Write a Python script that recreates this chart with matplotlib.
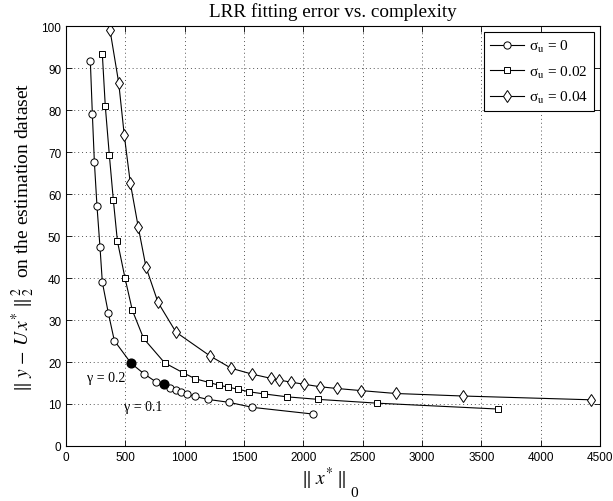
import matplotlib
matplotlib.use('Agg')
import matplotlib.pyplot as plt

# sigma_u = 0
x_s0 = [205, 222, 239, 261, 286, 306, 357, 407, 548, 657, 756, 828, 880, 925, 968,
        1017, 1087, 1194, 1373, 1570, 2083]
y_s0 = [91.6, 79.0, 67.6, 57.1, 47.5, 39.0, 31.6, 25.1, 19.7, 17.2, 15.3, 14.7, 13.9,
        13.4, 12.9, 12.4, 11.8, 11.1, 10.4, 9.2, 7.6]
# sigma_u = 0.02
x_s1 = [306, 331, 365, 399, 433, 497, 559, 654, 831, 989, 1090, 1209, 1285, 1368, 1452,
        1544, 1670, 1864, 2125, 2620, 3637]
y_s1 = [93.3, 80.9, 69.3, 58.5, 48.8, 40.0, 32.3, 25.6, 19.8, 17.4, 16.0, 15.1, 14.5,
        14.0, 13.5, 12.9, 12.4, 11.7, 11.1, 10.2, 8.8]
# sigma_u = 0.04
x_s2 = [371, 444, 491, 542, 609, 674, 775, 927, 1216, 1393, 1570, 1728, 1797, 1896, 2008,
        2142, 2280, 2483, 2780, 3346, 4423]
y_s2 = [99.0, 86.5, 74.0, 62.6, 52.1, 42.6, 34.2, 27.1, 21.4, 18.5, 17.1, 16.1, 15.7,
        15.2, 14.7, 14.1, 13.7, 13.2, 12.5, 11.9, 11.0]

# highlighted gamma points (on sigma_u = 0 curve)
gamma_x = [548, 828]
gamma_y = [19.7, 14.7]
gamma_txt = ['γ = 0.2', 'γ = 0.1']
gamma_pos = [(175, 16.2), (490, 9.5)]

plt.rcParams['mathtext.fontset'] = 'stix'
serif = ['Liberation Serif', 'DejaVu Serif']

fig = plt.figure(figsize=(6.13, 5.02), dpi=100)
ax = fig.add_axes([0.1077, 0.1096, 0.8711, 0.8364])

style = dict(color='black', linewidth=0.8, markerfacecolor='white',
             markeredgecolor='black', markeredgewidth=0.7)
ax.plot(x_s0, y_s0, marker='o', markersize=5.2, label='σ$_{\\rm u}$ = 0', **style)
ax.plot(x_s1, y_s1, marker='s', markersize=4.4, label='σ$_{\\rm u}$ = 0.02', **style)
ax.plot(x_s2, y_s2, marker='d', markersize=6.3, label='σ$_{\\rm u}$ = 0.04', **style)

ax.plot(gamma_x, gamma_y, linestyle='none', marker='o', markersize=6.3, color='black')
for t, (tx, ty) in zip(gamma_txt, gamma_pos):
    ax.text(tx, ty, t, fontsize=10, family=serif, va='center', ha='left')

ax.set_xlim(0, 4500)
ax.set_ylim(0, 100)
ax.set_xticks(range(0, 4501, 500))
ax.set_yticks(range(0, 101, 10))
ax.tick_params(direction='in', top=True, right=True, labelsize=8.5, length=4, width=0.6)
for lab in ax.get_xticklabels() + ax.get_yticklabels():
    lab.set_family('Liberation Sans')
ax.grid(True, linestyle=(0, (1, 3)), color='#555555', linewidth=0.7)
for s in ax.spines.values():
    s.set_linewidth(0.8)

ax.set_title('LRR fitting error vs. complexity', fontsize=13.8, family=serif, pad=7)
ax.set_xlabel(r'$\Vert\; x^{*}\; \Vert$', fontsize=14)
ax.xaxis.set_label_coords(0.483, -0.045, transform=ax.transAxes)
ax.xaxis.label.set_va('top')
fig.text(0.572, 0.01, '0', fontsize=11, family=serif)
ax.set_ylabel(r'$\Vert\; y\, -\, U\, x^{*}\; \Vert_{\,2}^{\,2}$  on the estimation dataset',
              fontsize=14, family=serif, labelpad=3)

leg = ax.legend(loc='upper right', prop={'family': serif, 'size': 11},
                fancybox=False, edgecolor='black', framealpha=1, handlelength=2.2,
                handletextpad=0.3, borderpad=0.4, borderaxespad=0.4, labelspacing=0.6)
leg.get_frame().set_linewidth(0.8)

fig.savefig('out.png', dpi=100)
